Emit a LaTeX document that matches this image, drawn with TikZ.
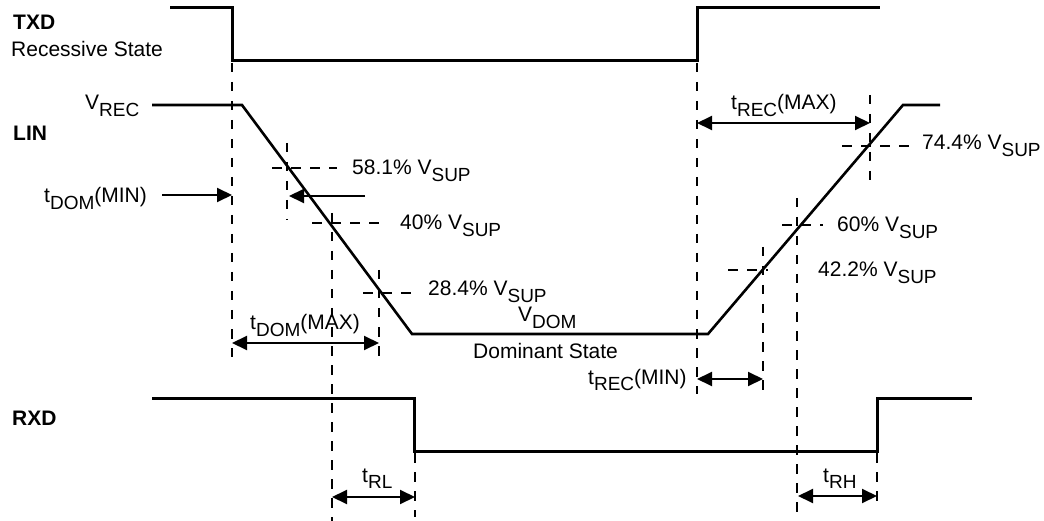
\documentclass[tikz,border=0pt]{standalone}
\usepackage{fontspec}
\setmainfont{Liberation Sans}
\usetikzlibrary{arrows.meta}
\newcommand\sbs[1]{\raisebox{-6.5pt}{\fontsize{19pt}{21pt}\selectfont #1}}
\begin{document}
\begin{tikzpicture}[x=1pt,y=-1pt,
  wave/.style={line width=3pt, line join=miter},
  linw/.style={line width=2.6pt, line join=miter},
  guide/.style={line width=2pt, dash pattern=on 9.5pt off 9.5pt},
  dimboth/.style={line width=2pt, {Triangle[length=15pt,width=14pt]}-{Triangle[length=15pt,width=14pt]}},
  dimone/.style={line width=2pt, -{Triangle[length=15pt,width=14pt]}},
  lbl/.style={inner sep=0pt, anchor=base west, font=\fontsize{21pt}{25pt}\selectfont},
  blbl/.style={lbl, font=\fontsize{21pt}{25pt}\selectfont\bfseries},
]
\useasboundingbox (0,0) rectangle (1044,521);

% ---- waveform corner points
\coordinate (t1) at (170,8);  \coordinate (t2) at (232,8);  \coordinate (t3) at (232,61);
\coordinate (t4) at (697,61); \coordinate (t5) at (697,8);  \coordinate (t6) at (880,8);
\coordinate (l1) at (152,105); \coordinate (l2) at (242,105); \coordinate (l3) at (412,334);
\coordinate (l4) at (708,334); \coordinate (l5) at (903,105); \coordinate (l6) at (940,105);
\coordinate (r1) at (152,398); \coordinate (r2) at (414,398); \coordinate (r3) at (414,451);
\coordinate (r4) at (877,451); \coordinate (r5) at (877,398); \coordinate (r6) at (972,398);

\draw[wave] (t1) -- (t2) -- (t3) -- (t4) -- (t5) -- (t6);
\draw[linw] (l1) -- (l2) -- (l3) -- (l4) -- (l5) -- (l6);
\draw[wave] (r1) -- (r2) -- (r3) -- (r4) -- (r5) -- (r6);

% ---- dashed guide lines (vertical)
\coordinate (va1) at (232,63);  \coordinate (va2) at (232,357);
\coordinate (vb1) at (287,143); \coordinate (vb2) at (287,220);
\coordinate (vc1) at (332,213); \coordinate (vc2) at (332,521);
\coordinate (vd1) at (379,270); \coordinate (vd2) at (379,357);
\coordinate (ve1) at (415,453); \coordinate (ve2) at (415,517);
\coordinate (vf1) at (697,63);  \coordinate (vf2) at (697,394);
\coordinate (vg1) at (870,95);  \coordinate (vg2) at (870,180);
\coordinate (vh1) at (797,198); \coordinate (vh2) at (797,514);
\coordinate (vi1) at (763,247); \coordinate (vi2) at (763,392);
\coordinate (vj1) at (877,453); \coordinate (vj2) at (877,505);
\foreach \v in {a,b,c,d,e,f,g,h,i,j} \draw[guide] (v\v1) -- (v\v2);

% ---- dashed guide lines (horizontal)
\coordinate (ha1) at (272,168); \coordinate (ha2) at (337,168);
\coordinate (hb1) at (312,223); \coordinate (hb2) at (387,223);
\coordinate (hc1) at (363,293); \coordinate (hc2) at (415,293);
\coordinate (hd1) at (842,146); \coordinate (hd2) at (910,146);
\coordinate (he1) at (782,225); \coordinate (he2) at (823,225);
\coordinate (hf1) at (728,270); \coordinate (hf2) at (768,270);
\foreach \h in {a,b,c,d,e,f} \draw[guide] (h\h1) -- (h\h2);

% ---- labels
\node[blbl] (txd) at (13,30) {TXD};
\node[lbl] (recst) at (11,57) {Recessive State};
\node[lbl] (vrec) at (85,110) {V\sbs{REC}};
\node[blbl] (lin) at (13,141) {LIN};
\node[lbl] (tdmin) at (44,203) {t\sbs{DOM}(MIN)};
\node[lbl] (p581) at (352,175) {58.1\% V\sbs{SUP}};
\node[lbl] (p40) at (400,230) {40\% V\sbs{SUP}};
\node[lbl] (p284) at (428,296) {28.4\% V\sbs{SUP}};
\node[lbl] (tdmax) at (250,330) {t\sbs{DOM}(MAX)};
\node[lbl] (vdom) at (518,322) {V\sbs{DOM}};
\node[lbl] (domst) at (473,358) {Dominant State};
\node[lbl] (trmin) at (588,384) {t\sbs{REC}(MIN)};
\node[lbl] (trmax) at (731,110) {t\sbs{REC}(MAX)};
\node[lbl] (p744) at (922,150) {74.4\% V\sbs{SUP}};
\node[lbl] (p60) at (837,232) {60\% V\sbs{SUP}};
\node[lbl] (p422) at (818,277) {42.2\% V\sbs{SUP}};
\node[blbl] (rxd) at (12,425) {RXD};
\node[lbl] (trl) at (362,482) {t\sbs{RL}};
\node[lbl] (trh) at (823,482) {t\sbs{RH}};

% ---- timing arrows
\coordinate (a1s) at (162,195); \coordinate (a1e) at (232,195);
\coordinate (a2s) at (365,196); \coordinate (a2e) at (289,196);
\coordinate (a3s) at (232,343); \coordinate (a3e) at (379,343);
\coordinate (a4s) at (332,497); \coordinate (a4e) at (415,497);
\coordinate (a5s) at (697,123); \coordinate (a5e) at (870,123);
\coordinate (a6s) at (697,379); \coordinate (a6e) at (763,379);
\coordinate (a7s) at (798,496); \coordinate (a7e) at (877,496);
\draw[dimone] (a1s) -- (a1e);
\draw[dimone] (a2s) -- (a2e);
\draw[dimboth] (a3s) -- (a3e);
\draw[dimboth] (a4s) -- (a4e);
\draw[dimboth] (a5s) -- (a5e);
\draw[dimboth] (a6s) -- (a6e);
\draw[dimboth] (a7s) -- (a7e);
\end{tikzpicture}
\end{document}
